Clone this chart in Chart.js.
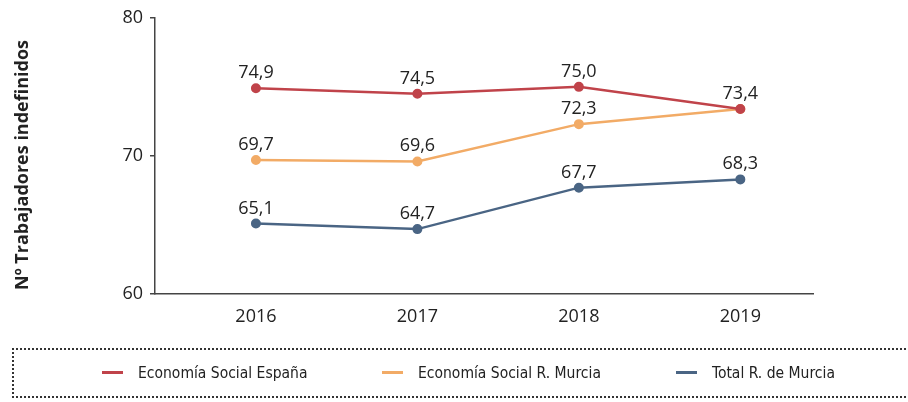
<!DOCTYPE html>
<html>
<head>
<meta charset="utf-8">
<script src="https://cdn.jsdelivr.net/npm/chart.js@4"></script>
<style>
  html, body { margin: 0; padding: 0; background: #fff; }
  #wrap { position: relative; width: 908px; height: 402px; overflow: hidden; }
  #chart { position: absolute; left: 0; top: 0; }
  #legend {
    position: absolute; left: 12px; top: 348px; width: 910px; height: 50px;
    border: 2px dotted #333; box-sizing: border-box;
    font-family: 'DejaVu Sans Condensed', 'Liberation Sans Narrow', sans-serif;
    font-size: 15.5px; color: #222;
  }
  .item { position: absolute; top: 13px; white-space: nowrap; line-height: 20px; }
  .swatch { display: inline-block; width: 21px; height: 3px; vertical-align: middle; margin-right: 15px; position: relative; top: -1px; }
</style>
</head>
<body>
<div id="wrap">
  <canvas id="chart" width="908" height="402"></canvas>
  <div id="legend"></div>
</div>
<script>
// chart data
var years = [2016, 2017, 2018, 2019];
var espana = [74.9, 74.5, 75.0, 73.4];
var murciaSocial = [69.7, 69.6, 72.3, 73.4];
var murciaTotal = [65.1, 64.7, 67.7, 68.3];
var seriesNames = ['Economía Social España', 'Economía Social R. Murcia', 'Total R. de Murcia'];
var seriesColors = ['#c0434a', '#f2ab66', '#4a6584'];
var yTicks = [60, 70, 80];
var yTitle = 'Nº Trabajadores indefinidos';
var legendLeft = [88, 368, 662];

var fontFamily = "'Open Sans', 'Noto Sans', sans-serif";

function toPoints(arr){
    return arr.map(function(v, i){ return {x: years[i], y: v}; });
}

function makeSet(i, arr){
    return {
        label: seriesNames[i],
        data: toPoints(arr),
        borderColor: seriesColors[i],
        backgroundColor: seriesColors[i],
        borderWidth: 2.5,
        pointRadius: 4,
        pointBorderWidth: 2,
        pointHoverRadius: 4,
        tension: 0
    };
}

//Draw value labels above each point (once per spot)
var valueLabels = {
    id: 'valueLabels',
    afterDatasetsDraw: function(chart){
        var ctx = chart.ctx;
        var done = {};
        ctx.save();
        ctx.font = '18px ' + fontFamily;
        ctx.fillStyle = '#222';
        ctx.textAlign = 'center';
        ctx.textBaseline = 'alphabetic';
        chart.data.datasets.forEach(function(ds, i){
            var meta = chart.getDatasetMeta(i);
            meta.data.forEach(function(pt, j){
                var key = Math.round(pt.x) + '_' + Math.round(pt.y);
                if(done[key]) return;
                done[key] = true;
                var txt = ds.data[j].y.toFixed(1).replace('.', ',');
                ctx.fillText(txt, pt.x, pt.y - 10);
            });
        });
        ctx.restore();
    }
};

//Rotated y axis title
var axisTitle = {
    id: 'axisTitle',
    afterDraw: function(chart){
        var ctx = chart.ctx;
        ctx.save();
        ctx.translate(23, 165);
        ctx.rotate(-Math.PI / 2);
        ctx.font = 'bold 18px ' + fontFamily;
        ctx.fillStyle = '#222';
        ctx.textAlign = 'center';
        ctx.textBaseline = 'middle';
        ctx.fillText(yTitle, 0, 0);
        ctx.restore();
    }
};

var chart = new Chart(document.getElementById('chart'), {
    type: 'line',
    data: {
        datasets: [makeSet(0, espana), makeSet(1, murciaSocial), makeSet(2, murciaTotal)]
    },
    options: {
        responsive: false,
        animation: false,
        events: [],
        layout: { padding: { top: 17, right: 95, left: 0, bottom: 0 } },
        plugins: { legend: { display: false }, tooltip: { enabled: false } },
        scales: {
            x: {
                type: 'linear',
                min: 2015.375,
                max: 2019.45,
                afterBuildTicks: function(scale){
                    scale.ticks = years.map(function(y){ return {value: y}; });
                },
                afterFit: function(scale){ scale.height = 108; },
                grid: { display: false },
                border: { display: true, color: '#444', width: 1.5 },
                ticks: {
                    padding: 4,
                    color: '#222',
                    font: { size: 18, family: fontFamily },
                    callback: function(v){ return String(v); }
                }
            },
            y: {
                min: 60,
                max: 80,
                afterBuildTicks: function(scale){
                    scale.ticks = yTicks.map(function(v){ return {value: v}; });
                },
                afterFit: function(scale){ scale.width = 155; },
                grid: { display: true, drawOnChartArea: false, tickLength: 5, color: '#444', lineWidth: 1.5 },
                border: { display: true, color: '#444', width: 1.5 },
                ticks: {
                    padding: 7,
                    color: '#222',
                    font: { size: 18, family: fontFamily }
                }
            }
        }
    },
    plugins: [valueLabels, axisTitle]
});

//Build legend
var legend = document.getElementById('legend');
seriesNames.forEach(function(name, i){
    var item = document.createElement('div');
    item.className = 'item';
    item.style.left = legendLeft[i] + 'px';
    var sw = document.createElement('span');
    sw.className = 'swatch';
    sw.style.background = seriesColors[i];
    item.appendChild(sw);
    item.appendChild(document.createTextNode(name));
    legend.appendChild(item);
});
</script>
</body>
</html>
